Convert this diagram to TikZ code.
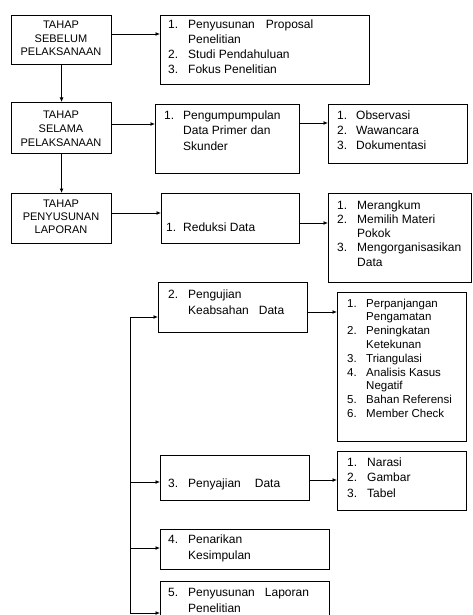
\documentclass[tikz,border=0pt]{standalone}
\usepackage{fontspec}
\setmainfont{Liberation Sans}
\usetikzlibrary{arrows.meta}
\begin{document}
\begin{tikzpicture}[x=1pt,y=-1pt,
  box/.style={draw, line width=1.1pt, inner sep=0pt, anchor=north west},
  arr/.style={line width=0.9pt, -{Latex[length=4.5pt,width=4pt]}},
  ln/.style={line width=0.9pt},
  txt/.style={inner sep=0pt, anchor=base west},
  captxt/.style={inner sep=0pt, anchor=base, font=\fontsize{11}{13.5}\selectfont}]
\clip (0,0) rectangle (473,615);
\fill[white] (0,0) rectangle (473,615);
% boxes
\node[box, minimum width=100pt, minimum height=49pt] (A) at (11,15) {};
\node[box, minimum width=209pt, minimum height=69pt] (B) at (160,15) {};
\node[box, minimum width=100pt, minimum height=51pt] (C) at (11,102) {};
\node[box, minimum width=144pt, minimum height=69pt] (D) at (155,104) {};
\node[box, minimum width=139pt, minimum height=59pt] (E) at (328,104) {};
\node[box, minimum width=100pt, minimum height=50pt] (F) at (11,193) {};
\node[box, minimum width=138pt, minimum height=50pt] (G) at (161,193) {};
\node[box, minimum width=143pt, minimum height=89pt] (H) at (328,193) {};
\node[box, minimum width=149pt, minimum height=50pt] (I) at (158,282) {};
\node[box, minimum width=129pt, minimum height=149pt] (J) at (337,292) {};
\node[box, minimum width=149pt, minimum height=45pt] (K) at (160,455) {};
\node[box, minimum width=129pt, minimum height=59pt] (L) at (337,451) {};
\node[box, minimum width=169pt, minimum height=40pt] (M) at (160,529) {};
\node[box, minimum width=169pt, minimum height=60pt] (N) at (160,581) {};
% texts
\node[captxt] (tA) at (61,29) {\begin{tabular}[t]{@{}c@{}}TAHAP\\SEBELUM\\PELAKSANAAN\end{tabular}};
\node[captxt, font=\fontsize{11}{14}\selectfont] (tC) at (61,118) {\begin{tabular}[t]{@{}c@{}}TAHAP\\SELAMA\\PELAKSANAAN\end{tabular}};
\node[captxt, font=\fontsize{11}{13}\selectfont] (tF) at (61,207) {\begin{tabular}[t]{@{}c@{}}TAHAP\\PENYUSUNAN\\LAPORAN\end{tabular}};
\node[txt, font=\fontsize{12}{15}\selectfont] (tB) at (168,29) {\begin{tabular}[t]{@{}p{20pt}@{}l@{}}1.&Penyusunan\hspace{11pt}Proposal\\&Penelitian\\2.&Studi Pendahuluan\\3.&Fokus Penelitian\end{tabular}};
\node[txt, font=\fontsize{12}{16}\selectfont] (tD) at (164,119) {\begin{tabular}[t]{@{}p{19pt}@{}l@{}}1.&Pengumpumpulan\\&Data Primer dan\\&Skunder\end{tabular}};
\node[txt, font=\fontsize{12}{15.5}\selectfont] (tE) at (337,119) {\begin{tabular}[t]{@{}p{19pt}@{}l@{}}1.&Observasi\\2.&Wawancara\\3.&Dokumentasi\end{tabular}};
\node[txt, font=\fontsize{12}{15}\selectfont] (tG) at (166,231) {\begin{tabular}[t]{@{}p{17pt}@{}l@{}}1.&Reduksi Data\end{tabular}};
\node[txt, font=\fontsize{12}{14.3}\selectfont] (tH) at (337,209) {\begin{tabular}[t]{@{}p{20pt}@{}l@{}}1.&Merangkum\\2.&Memilih Materi\\&Pokok\\3.&Mengorganisasikan\\&Data\end{tabular}};
\node[txt, font=\fontsize{12}{16}\selectfont] (tI) at (168,298) {\begin{tabular}[t]{@{}p{20pt}@{}l@{}}2.&Pengujian\\&Keabsahan\hspace{10pt}Data\end{tabular}};
\node[txt, font=\fontsize{11.5}{13.8}\selectfont] (tJ) at (347,307) {\begin{tabular}[t]{@{}p{19pt}@{}l@{}}1.&Perpanjangan\\&Pengamatan\\2.&Peningkatan\\&Ketekunan\\3.&Triangulasi\\4.&Analisis Kasus\\&Negatif\\5.&Bahan Referensi\\6.&Member Check\end{tabular}};
\node[txt, font=\fontsize{12}{15}\selectfont] (tK) at (168,487) {\begin{tabular}[t]{@{}p{20pt}@{}l@{}}3.&Penyajian\hspace{14pt}Data\end{tabular}};
\node[txt, font=\fontsize{12}{15.5}\selectfont] (tL) at (347,466) {\begin{tabular}[t]{@{}p{20pt}@{}l@{}}1.&Narasi\\2.&Gambar\\3.&Tabel\end{tabular}};
\node[txt, font=\fontsize{12}{16}\selectfont] (tM) at (168,543) {\begin{tabular}[t]{@{}p{20pt}@{}l@{}}4.&Penarikan\\&Kesimpulan\end{tabular}};
\node[txt, font=\fontsize{12}{16}\selectfont] (tN) at (168,596) {\begin{tabular}[t]{@{}p{20pt}@{}l@{}}5.&Penyusunan\hspace{10pt}Laporan\\&Penelitian\end{tabular}};
% helper levels
\coordinate (yAB) at (0,34);
\coordinate (yCD) at (0,124);
\coordinate (yDE) at (0,123);
\coordinate (yFG) at (0,213);
\coordinate (yGH) at (0,223);
\coordinate (yIJ) at (0,312);
\coordinate (yKL) at (0,480);
\coordinate (tkI) at (130,317);
\coordinate (tkK) at (130,482);
\coordinate (tkM) at (130,548);
\coordinate (tkN) at (130,613);
% connectors
\draw[arr] (A.east |- yAB) -- (B.west |- yAB);
\draw[arr] (A.south) -- (C.north);
\draw[arr] (C.east |- yCD) -- (D.west |- yCD);
\draw[arr] (D.east |- yDE) -- (E.west |- yDE);
\draw[arr] (C.south) -- (F.north);
\draw[arr] (F.east |- yFG) -- (G.west |- yFG);
\draw[arr] (G.east |- yGH) -- (H.west |- yGH);
\draw[arr] (I.east |- yIJ) -- (J.west |- yIJ);
\draw[arr] (K.east |- yKL) -- (L.west |- yKL);
\draw[ln] (tkN) -- (tkI);
\draw[arr] (tkI) -- (I.west |- tkI);
\draw[arr] (tkK) -- (K.west |- tkK);
\draw[arr] (tkM) -- (M.west |- tkM);
\draw[arr] (tkN) -- (N.west |- tkN);
\end{tikzpicture}
\end{document}
